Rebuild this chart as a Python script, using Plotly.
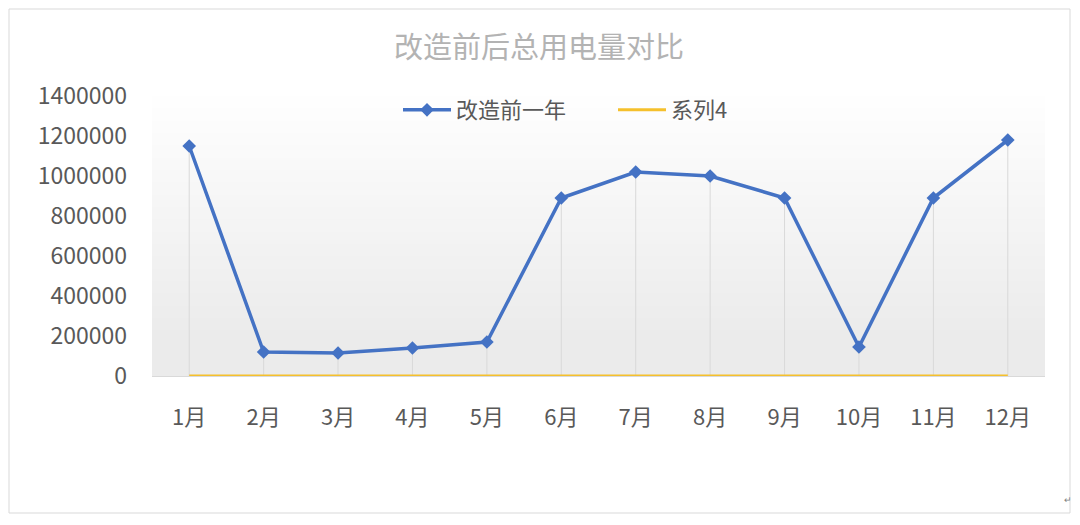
import plotly.graph_objects as go

months = ["1月", "2月", "3月", "4月", "5月", "6月", "7月", "8月", "9月", "10月", "11月", "12月"]
before_year = [1150000, 120000, 115000, 140000, 170000, 890000, 1020000, 1000000, 890000, 145000, 890000, 1180000]
series4 = [0, 0, 0, 0, 0, 0, 0, 0, 0, 0, 0, 0]
y_ticks = [0, 200000, 400000, 600000, 800000, 1000000, 1200000, 1400000]

FONT = "Noto Sans CJK SC"
W, H = 1080, 525
L, R, T, B = 152, 35, 96, 149
pw, ph = W - L - R, H - T - B

def px_x(p):
    return (p - L) / pw

def px_y(p):
    return (H - B - p) / ph

fig = go.Figure()

# drop lines from each point to the axis
fig.add_trace(go.Scatter(
    x=months, y=before_year, mode="markers",
    marker=dict(opacity=0, size=1),
    error_y=dict(type="data", symmetric=False, array=[0] * len(before_year),
                 arrayminus=before_year, color="#d9d9d9", thickness=1, width=0),
    showlegend=False, hoverinfo="skip",
))

fig.add_trace(go.Scatter(
    x=months, y=before_year, name="改造前一年", mode="lines+markers",
    line=dict(color="#4472C4", width=3.5),
    marker=dict(symbol="diamond", size=10.5, color="#4472C4"),
))
fig.add_trace(go.Scatter(
    x=months, y=series4, name="系列4", mode="lines",
    line=dict(color="#F5C02C", width=3), cliponaxis=False,
))

shapes = []
# gradient plot background (white at top to light gray at bottom)
n = 20
for i in range(n):
    shapes.append(dict(type="rect", xref="paper", yref="paper",
                       x0=0, x1=1.0, y0=0, y1=1 - i / n * 0.88,
                       fillcolor="#ebebf0", opacity=0.045, line=dict(width=0),
                       layer="below"))
# chart border
shapes.append(dict(type="rect", xref="paper", yref="paper",
                   x0=px_x(9), x1=px_x(1070), y0=px_y(513), y1=px_y(9),
                   line=dict(color="#d9d9d9", width=1), fillcolor="rgba(0,0,0,0)",
                   layer="above"))

fig.update_layout(
    width=W, height=H,
    margin=dict(l=L, r=R, t=T, b=B),
    paper_bgcolor="white", plot_bgcolor="white",
    font=dict(family=FONT, color="#595959"),
    title=dict(text="改造前后总用电量对比", x=0.499, xanchor="center",
               y=1 - 48 / H, yanchor="middle", yref="container",
               font=dict(family=FONT, size=29, color="#b3b3b3")),
    legend=dict(orientation="h", x=px_x(398), xanchor="left",
                y=px_y(110), yanchor="middle",
                font=dict(family=FONT, size=22, color="#595959"),
                entrywidth=152, entrywidthmode="pixels",
                bgcolor="rgba(0,0,0,0)", itemwidth=48),
    shapes=shapes,
    showlegend=True,
    annotations=[dict(text="↵", xref="paper", yref="paper", x=px_x(1074), y=px_y(508),
                      showarrow=False, font=dict(size=9, color="#808080"))],
)

fig.update_xaxes(
    type="category", range=[-0.5, 11.5], showgrid=False, zeroline=False,
    showline=True, linecolor="#d9d9d9", linewidth=1, ticks="", layer="below traces",
    tickfont=dict(family=FONT, size=22, color="#595959"), ticklabelstandoff=22,
)
fig.update_yaxes(
    range=[0, 1400000], tickvals=y_ticks, ticktext=[str(v) for v in y_ticks],
    showgrid=False, zeroline=False, showline=False, ticks="", layer="below traces",
    tickfont=dict(family=FONT, size=23, color="#595959"), ticklabelstandoff=24,
)

fig.write_html("out.html", config={"displayModeBar": False},
               post_script="document.body.style.margin='0px';")
